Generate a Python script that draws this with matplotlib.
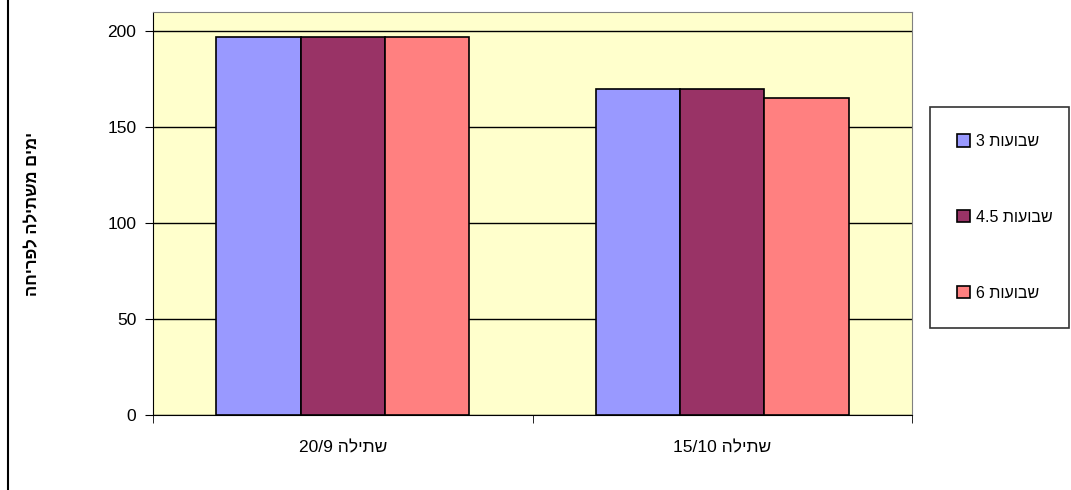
import matplotlib.pyplot as plt
import numpy as np
from matplotlib.lines import Line2D

# data (Hebrew strings in logical order)
categories = ["שתילה 20/9", "שתילה 15/10"]
series_names = ["שבועות 3", "שבועות 4.5", "שבועות 6"]
values_3w = [197, 170]
values_45w = [197, 170]
values_6w = [197, 165]
y_label = "ימים משתילה לפריחה"
y_ticks = [0, 50, 100, 150, 200]

colors = ["#9999FF", "#993366", "#FF8080"]


def vis(s):
    # matplotlib has no bidi support, so put the RTL text into visual order
    words = s.split()[::-1]
    out = []
    for w in words:
        if any("\u0590" <= c <= "\u05ff" for c in w):
            out.append(w[::-1])
        else:
            out.append(w)
    return " ".join(out)


plt.rcParams["font.family"] = ["Liberation Sans", "DejaVu Sans"]

fig = plt.figure(figsize=(10.71, 4.90), dpi=100)
ax = fig.add_axes([153 / 1071, 75 / 490, 759 / 1071, 403 / 490])
ax.set_facecolor("#FFFFCC")

x = np.arange(len(categories))
w = 0.222
for i, vals in enumerate([values_3w, values_45w, values_6w]):
    ax.bar(x + (i - 1) * w, vals, width=w, color=colors[i], edgecolor="black",
           linewidth=1.2, label=vis(series_names[i]), zorder=3)

ax.set_xlim(-0.5, len(categories) - 0.5)
ax.set_ylim(0, 210)
ax.set_yticks(y_ticks)
ax.tick_params(axis="y", direction="out", length=6, labelsize=12.5, pad=6)
ax.yaxis.grid(True, color="black", linewidth=1.0, zorder=0)
ax.set_axisbelow(True)

# category labels centered, tick marks on category borders
ax.set_xticks(x)
ax.set_xticklabels([vis(c) for c in categories], fontsize=12.5)
ax.tick_params(axis="x", length=0, pad=18)
ax.set_xticks(np.arange(len(categories) + 1) - 0.5, minor=True)
ax.tick_params(axis="x", which="minor", direction="out", length=6)

ax.set_ylabel(vis(y_label), fontsize=12, fontweight="bold")
ax.yaxis.set_label_coords(-0.148, 0.5)

for side in ["top", "right"]:
    ax.spines[side].set_color("#808080")
for side in ["left", "bottom"]:
    ax.spines[side].set_color("black")

leg = fig.legend(loc="upper left",
                 bbox_to_anchor=(930 / 1071, 1 - 330 / 490, 139 / 1071, 223 / 490),
                 mode="expand", frameon=True, fancybox=False, edgecolor="black",
                 fontsize=11.5, handlelength=0.8, handleheight=0.8,
                 labelspacing=3.8, borderpad=1.7, handletextpad=0.35,
                 borderaxespad=0)
leg.get_frame().set_linewidth(1.2)

# left border of the chart area
fig.add_artist(Line2D([8 / 1071, 8 / 1071], [0, 1], color="black", linewidth=1.5,
                      transform=fig.transFigure))

fig.savefig("out.png", dpi=100)
